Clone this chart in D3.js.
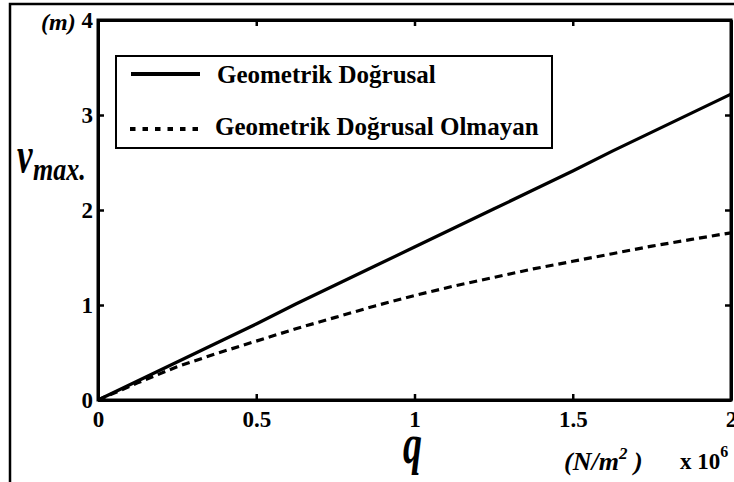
<!DOCTYPE html>
<html><head><meta charset="utf-8">
<script src="https://cdn.jsdelivr.net/npm/d3@7"></script>
<style>body{margin:0;background:#fff;} svg{display:block;}</style></head>
<body>
<svg id="c" width="734" height="482"></svg>
<script>
const qValues = [0,0.125,0.25,0.375,0.5,0.625,0.75,0.875,1,1.125,1.25,1.375,1.5,1.625,1.75,1.875,2];
const linearValues = [0,0.20,0.40,0.60,0.80,1.01,1.21,1.41,1.61,1.81,2.01,2.21,2.41,2.62,2.82,3.02,3.22];
const nonlinearValues = [0,0.18,0.35,0.49,0.62,0.75,0.87,0.99,1.10,1.20,1.29,1.38,1.46,1.54,1.62,1.69,1.76];
const xTicks = [0,0.5,1,1.5,2];
const yTicks = [0,1,2,3,4];
const seriesNames = ["Geometrik Doğrusal","Geometrik Doğrusal Olmayan"];

const FF = "Liberation Serif";
function styl(sel, size, italic){
  sel.attr("font-family",FF).attr("font-weight","bold").attr("font-size",size).attr("fill","#000");
  if(italic) sel.attr("font-style","italic");
  return sel;
}

const svg = d3.select("#c");
const x = d3.scaleLinear().domain([0,2]).range([98,731]);
const y = d3.scaleLinear().domain([0,4]).range([400,20]);

// outer frame
svg.append("path").attr("d","M10,482 L10,4 L734,4").attr("fill","none").attr("stroke","#000").attr("stroke-width",2.5);

const fmt = d => String(d);
const gB = svg.append("g").attr("transform","translate(0,400)")
  .call(d3.axisBottom(x).tickValues(xTicks).tickFormat(fmt).tickSizeInner(-6).tickSizeOuter(0).tickPadding(11));
const gT = svg.append("g").attr("transform","translate(0,20)")
  .call(d3.axisTop(x).tickValues(xTicks).tickFormat("").tickSizeInner(-6).tickSizeOuter(0));
const gL = svg.append("g").attr("transform","translate(98,0)")
  .call(d3.axisLeft(y).tickValues(yTicks).tickFormat(fmt).tickSizeInner(-6).tickSizeOuter(0).tickPadding(5));
const gR = svg.append("g").attr("transform","translate(731,0)")
  .call(d3.axisRight(y).tickValues(yTicks).tickFormat("").tickSizeInner(-6).tickSizeOuter(0));
[gB,gT,gL,gR].forEach(g=>{
  g.attr("font-family",FF).attr("font-size",23);
  g.selectAll("path.domain").attr("stroke","#000").attr("stroke-width",3);
  g.selectAll(".tick line").attr("stroke","#000").attr("stroke-width",2.5);
  styl(g.selectAll("text"),23,false);
});

// plot box
svg.append("rect").attr("x",x(0)).attr("y",y(4)).attr("width",x(2)-x(0)).attr("height",y(0)-y(4))
  .attr("fill","none").attr("stroke","#000").attr("stroke-width",3);

const line = d3.line().x((d,i)=>x(qValues[i])).y(d=>y(d));
svg.append("path").datum(linearValues).attr("d",line).attr("fill","none").attr("stroke","#000").attr("stroke-width",3.2);
svg.append("path").datum(nonlinearValues).attr("d",line).attr("fill","none").attr("stroke","#000").attr("stroke-width",3.2).attr("stroke-dasharray","8,5");

// legend
const lg = svg.append("g");
lg.append("rect").attr("x",116).attr("y",56).attr("width",436).attr("height",92).attr("fill","#fff").attr("stroke","#000").attr("stroke-width",2);
lg.append("line").attr("x1",131).attr("x2",200).attr("y1",74).attr("y2",74).attr("stroke","#000").attr("stroke-width",4);
lg.append("line").attr("x1",130).attr("x2",201).attr("y1",129).attr("y2",129).attr("stroke","#000").attr("stroke-width",4).attr("stroke-dasharray","5.5,7");
styl(lg.append("text").attr("x",217).attr("y",83),25).text(seriesNames[0]);
styl(lg.append("text").attr("x",215).attr("y",135),25).text(seriesNames[1]);

// axis labels
styl(svg.append("text").attr("x",41).attr("y",30),24,true).text("(m)");
styl(svg.append("text").attr("transform","translate(17,172) scale(1,1.45)"),35,true).text("v");
styl(svg.append("text").attr("transform","translate(33,180) scale(1,1.25)"),26,true).text("max.");
styl(svg.append("text").attr("transform","translate(403,463) scale(1,1.5)"),38,true).text("q");
const u = styl(svg.append("text").attr("x",564).attr("y",470),26,true);
u.append("tspan").text("(N/m");
u.append("tspan").attr("dy",-11).attr("font-size",17).text("2");
u.append("tspan").attr("dy",11).text(" )");
const e = styl(svg.append("text").attr("x",680).attr("y",469),23,false);
e.append("tspan").text("x 10");
e.append("tspan").attr("dy",-12).attr("font-size",16).text("6");
</script>
</body></html>
